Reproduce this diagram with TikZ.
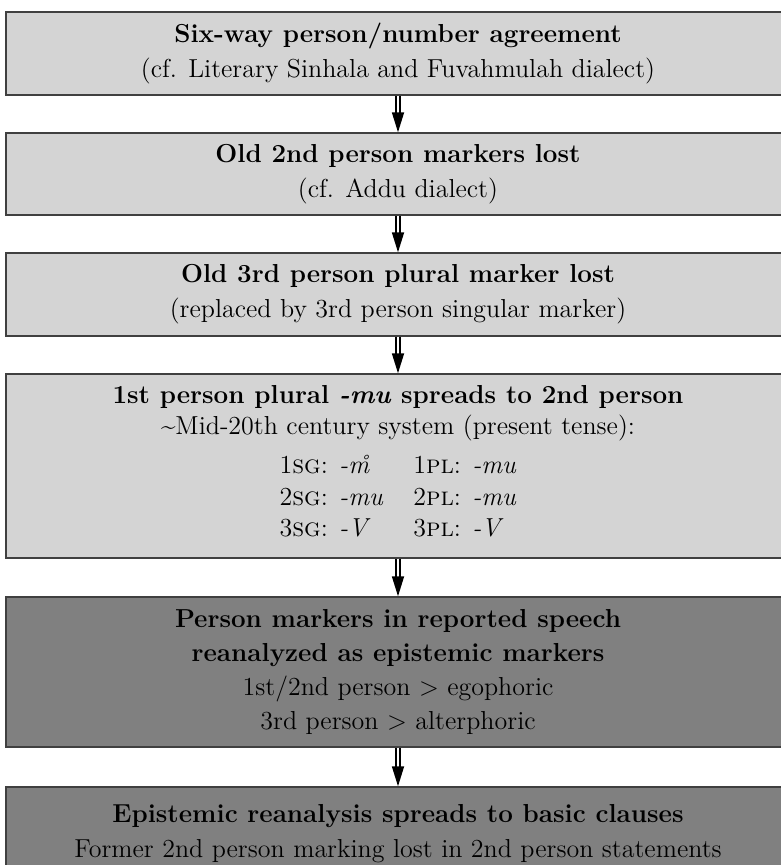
\documentclass[tikz,border=0pt]{standalone}
\usetikzlibrary{arrows.meta}
\definecolor{lightbox}{gray}{0.83}
\definecolor{darkbox}{gray}{0.5}

\begin{document}
\begin{tikzpicture}[x=1pt,y=1pt,
    stage/.style={draw=black!75, line width=0.7pt, minimum width=392pt, align=center,
      inner sep=0pt, font=\fontsize{13}{17}\selectfont},
    light/.style={stage, fill=lightbox},
    dark/.style={stage, fill=darkbox},
    arr/.style={double, double distance=1.1pt, line width=0.85pt,
      -{Triangle[length=10pt,width=6pt]}}]
    \useasboundingbox (0,0) rectangle (390,-432.5);

    % Stages
    \node[light, minimum height=41.5pt] (b1) at (199,-26.75)
      {\textbf{Six-way person/number agreement}\\[0.5pt]
       (cf. Literary Sinhala and Fuvahmulah dialect)};
    \node[light, minimum height=41pt] (b2) at (199,-87)
      {\textbf{Old 2nd person markers lost}\\[0.5pt]
       (cf. Addu dialect)};
    \node[light, minimum height=41.5pt] (b3) at (199,-147.25)
      {\textbf{Old 3rd person plural marker lost}\\[0.5pt]
       (replaced by 3rd person singular marker)};
    \node[light, minimum height=92pt] (b4) at (199,-233)
      {\textbf{1st person plural \textit{-mu} spreads to 2nd person}\\[-1.5pt]
       \textasciitilde Mid-20th century system (present tense):\\[2.5pt]
       \renewcommand\arraystretch{0.93}%
       \begin{tabular}[t]{@{}l@{\hspace{15pt}}l@{}}
         1\textsc{sg}: \textit{-\r{m}} & 1\textsc{pl}: \textit{-mu}\\
         2\textsc{sg}: \textit{-mu} & 2\textsc{pl}: \textit{-mu}\\
         3\textsc{sg}: \textit{-V} & 3\textsc{pl}: \textit{-V}
       \end{tabular}};
    \node[dark, minimum height=75pt] (b5) at (199,-336)
      {\textbf{Person markers in reported speech}\\
       \textbf{reanalyzed as epistemic markers}\\
       1st/2nd person \textgreater{} egophoric\\
       3rd person \textgreater{} alterphoric};
    \node[dark, minimum height=46.5pt] (b6) at (199,-416.75)
      {\textbf{Epistemic reanalysis spreads to basic clauses}\\[0.5pt]
       Former 2nd person marking lost in 2nd person statements};

    % Arrows
    \draw[arr] (b1) -- (b2);
    \draw[arr] (b2) -- (b3);
    \draw[arr] (b3) -- (b4);
    \draw[arr] (b4) -- (b5);
    \draw[arr] (b5) -- (b6);
\end{tikzpicture}
\end{document}
